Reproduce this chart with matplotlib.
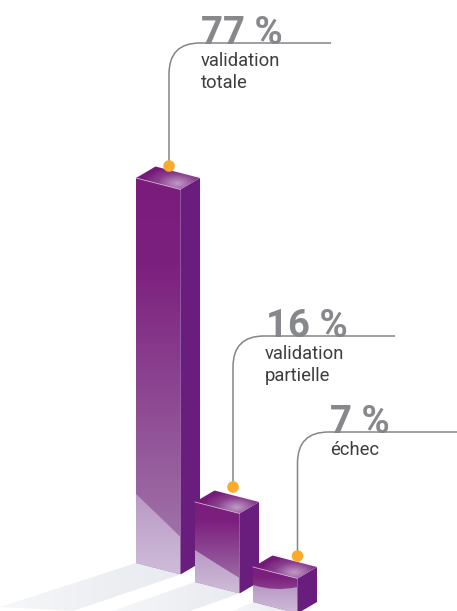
import numpy as np
import matplotlib
matplotlib.use("Agg")
import matplotlib.pyplot as plt
from matplotlib.colors import LinearSegmentedColormap as LSC
from matplotlib.patches import Circle, PathPatch, Polygon
from matplotlib.path import Path

categories = [["validation", "totale"], ["validation", "partielle"], ["échec"]]
values = [77, 16, 7]
value_labels = ["77 %", "16 %", "7 %"]

# layout (pixels)
W, H = 457, 611
PX_PER_PCT = 5.0
base_x = [136, 195, 253]
base_y = [563, 582, 602]
FRONT_W, FRONT_DY = 44.5, 11.5
SIDE_W, SIDE_DY = 19.5, 11.5
dot_x = [169, 233, 297.5]
dot_y = [166, 487, 556]
line_top = [43, 336, 432]
line_end = [331, 395, 457]
num_x = [201, 266, 330]
lab_x = [201, 265, 330]
# light reflection on the front face: left y, control, right y
refl = [(494, (158, 515), 537), (550, (215, 563), 578), (585, (275, 592), 587)]
shadow_reach = [(0, 607, 73, 611), (113, 611, 190, 611), (232, 611, 298, 611)]

plt.rcParams["font.family"] = ["Roboto", "DejaVu Sans"]
fig = plt.figure(figsize=(W / 100, H / 100), dpi=100)
ax = fig.add_axes([0, 0, 1, 1])
ax.axis("off")


def grad_fill(verts_or_path, extent, arr, cmap, z):
    path = verts_or_path if isinstance(verts_or_path, Path) else Path(list(verts_or_path) + [verts_or_path[0]], closed=True)
    im = ax.imshow(arr, extent=extent, cmap=cmap, vmin=0, vmax=1, aspect="auto",
                   origin="upper", zorder=z, interpolation="bilinear")
    im.set_clip_path(PathPatch(path, transform=ax.transData))


vert = np.linspace(0, 1, 256)[:, None]
front_cm = LSC.from_list("f", [(0, "#7a1c7c"), (0.22, "#7c207e"), (1, "#a47dad")])
refl_cm = LSC.from_list("r", ["#b899c4", "#cfbcd9"])
top_cm = LSC.from_list("t", ["#761a7a", "#8a3f8e", "#c09ac6"])
shadow_cm = LSC.from_list("s", ["#f6f7f9", "#eef0f3", "#e8ebf0"])

for i, v in enumerate(values):
    x0, yb = base_x[i], base_y[i]
    h = v * PX_PER_PCT
    x1, x2 = x0 + FRONT_W, x0 + FRONT_W + SIDE_W
    yt = yb - h

    # shadow on the floor
    lx, ly, rx, ry = shadow_reach[i]
    sv = [(x0, yb), (x1, yb + FRONT_DY), (rx, ry), (lx, ly)]
    gx = np.linspace(0, 1, 200)[None, :]
    grad_fill(sv, (lx, x1, H, yb), gx, shadow_cm, 1 + i * 3)

    # front
    fv = [(x0, yt), (x1, yt + FRONT_DY), (x1, yb + FRONT_DY), (x0, yb)]
    grad_fill(fv, (x0, x1, yb + FRONT_DY, yt), vert, front_cm, 2 + i * 3)

    # reflection at the foot of the front face
    yl, ctrl, yr = refl[i]
    p = Path([(x0, yl), ctrl, (x1, yr), (x1, yb + FRONT_DY), (x0, yb), (x0, yl)],
             [Path.MOVETO, Path.CURVE3, Path.CURVE3, Path.LINETO, Path.LINETO, Path.CLOSEPOLY])
    grad_fill(p, (x0, x1, yb + FRONT_DY, yl), vert, refl_cm, 2.2 + i * 3)

    # right side
    ax.add_patch(Polygon([(x1, yt + FRONT_DY), (x2, yt), (x2, yb), (x1, yb + FRONT_DY)],
                         closed=True, fc="#691d7d", ec="none", zorder=2.4 + i * 3))

    # top
    bx = x0 + 19.5
    by = yt - 11.5
    tv = [(x0, yt), (bx, by), (x2, yt), (x1, yt + FRONT_DY)]
    xx, yy = np.meshgrid(np.linspace(x0, x2, 128), np.linspace(by, yt + FRONT_DY, 64))
    d = np.hypot((xx - (x1 - 3)) / 34, (yy - (yt + 6)) / 17)
    grad_fill(tv, (x0, x2, yt + FRONT_DY, by), np.clip(1 - d, 0, 1) ** 0.8, top_cm, 2.5 + i * 3)

    # pale front edge of the top face
    ax.plot([x0, x1], [yt, yt + FRONT_DY], color="#c9a8cf", lw=0.6, zorder=2.6 + i * 3)

    # leader line
    cx, cy = dot_x[i], dot_y[i]
    ty = line_top[i]
    r = 31
    lp = Path([(cx, cy), (cx, ty + r), (cx, ty), (cx + r, ty), (line_end[i], ty)],
              [Path.MOVETO, Path.LINETO, Path.CURVE3, Path.CURVE3, Path.LINETO])
    ax.add_patch(PathPatch(lp, fc="none", ec="#848587", lw=1.1, zorder=20))
    ax.add_patch(Circle((cx, cy), 5.8, fc="#fbab2c", ec="none", zorder=21))

    # texts
    ax.text(num_x[i], ty + 1, value_labels[i], fontsize=27.5, fontweight="bold",
            color="#87888b", va="baseline", ha="left", zorder=19)
    for j, line in enumerate(categories[i]):
        ax.text(lab_x[i], ty + 23 + j * 22, line, fontsize=13.2, color="#3d3d40",
                va="baseline", ha="left", zorder=22)

ax.set_xlim(0, W)
ax.set_ylim(H, 0)
fig.savefig("out.png", dpi=100, facecolor="white")
